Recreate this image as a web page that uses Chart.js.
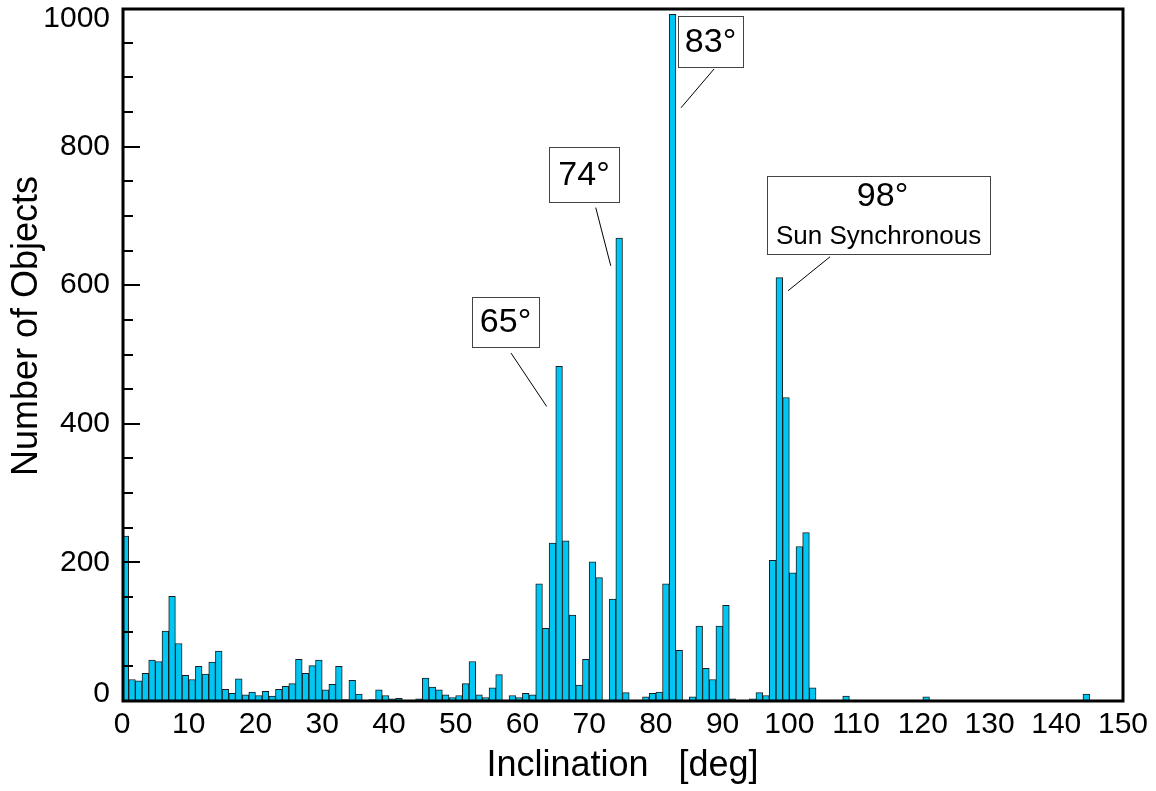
<!DOCTYPE html>
<html>
<head>
<meta charset="utf-8">
<script src="https://cdn.jsdelivr.net/npm/chart.js@4.4.1/dist/chart.umd.min.js"></script>
<style>
  html, body { margin: 0; padding: 0; background: #fff; }
  #chart { display: block; }
</style>
</head>
<body>
<canvas id="chart" width="1156" height="791"></canvas>
<script>
// Number of catalogued objects per 1-degree inclination bin (bin i covers i..i+1 deg)
const objectCounts = [
    238, 31, 29, 40, 59, 57, 101, 151, 83, 37,
    31, 50, 39, 56, 72, 17, 11, 32, 9, 13,
    8, 14, 7, 17, 21, 25, 60, 40, 51, 59,
    16, 24, 50, 2, 30, 10, 1, 2, 16, 8,
    3, 4, 1, 0, 3, 33, 20, 16, 9, 5,
    8, 25, 57, 9, 5, 19, 38, 0, 8, 5,
    11, 9, 169, 105, 228, 483, 231, 124, 23, 60,
    201, 178, 0, 147, 668, 12, 0, 0, 6, 11,
    13, 169, 991, 73, 0, 6, 108, 47, 31, 108,
    138, 3, 0, 0, 3, 12, 8, 203, 611, 438,
    185, 223, 243, 19, 0, 1, 0, 0, 7, 0,
    0, 0, 0, 0, 1, 0, 0, 0, 0, 0,
    6, 0, 0, 0, 0, 0, 0, 0, 0, 0,
    0, 0, 0, 0, 0, 0, 0, 0, 0, 0,
    0, 0, 0, 0, 10, 0, 0, 0, 0, 0
];

const xTickValues = [0, 10, 20, 30, 40, 50, 60, 70, 80, 90, 100, 110, 120, 130, 140, 150];
const yTickValues = [0, 200, 400, 600, 800, 1000];

const peakLabels = ['65°', '74°', '83°', '98°'];
const peakNotes = ['', '', '', 'Sun Synchronous'];

const xTitle = 'Inclination   [deg]';
const yTitle = 'Number of Objects';

// Callout boxes and leader lines, in axis units (deg, count)
const calloutLayout = [
    { box: [52.45, 62.49, 583, 511], line: [58.3, 502, 63.64, 425] },
    { box: [63.99, 74.48, 799, 719], line: [70.99, 712, 73.24, 628] },
    { box: [83.32, 93.06, 988, 915], line: [88.72, 912, 83.77, 856] },
    { box: [96.66, 130.07, 758, 646], line: [106.1, 641, 99.81, 592] }
];

const FONT = "'Liberation Sans', Arial, sans-serif";

// Frame, y ticks and labels, callouts and axis titles
const decorations = {
    id: 'decorations',
    afterDatasetsDraw(chart) {
        const { ctx, chartArea: area, scales: { x, y } } = chart;
        ctx.save();

        // minor ticks every 50, longer ones at the labelled values
        ctx.strokeStyle = '#000';
        ctx.lineWidth = 2;
        for (let v = 50; v < 1000; v += 50) {
            const py = Math.round(y.getPixelForValue(v));
            const len = v % 200 === 0 ? 18 : 11;
            ctx.beginPath();
            ctx.moveTo(area.left, py);
            ctx.lineTo(area.left + len, py);
            ctx.stroke();
        }

        ctx.lineWidth = 3;
        ctx.strokeRect(area.left + 1, area.top + 1, area.right - area.left - 1, area.bottom - area.top - 1);

        // y labels, the end ones kept inside the frame
        ctx.fillStyle = '#000';
        ctx.font = `30px ${FONT}`;
        ctx.textAlign = 'right';
        ctx.textBaseline = 'middle';
        yTickValues.forEach(v => {
            const py = y.getPixelForValue(v);
            const cy = Math.min(Math.max(py, area.top + 11), area.bottom - 7);
            ctx.fillText(String(v), area.left - 12, cy);
        });

        // peak callouts
        calloutLayout.forEach((c, i) => {
            const l = x.getPixelForValue(c.box[0]);
            const r = x.getPixelForValue(c.box[1]);
            const t = y.getPixelForValue(c.box[2]);
            const b = y.getPixelForValue(c.box[3]);
            ctx.fillStyle = '#fff';
            ctx.fillRect(l, t, r - l, b - t);
            ctx.strokeStyle = '#444';
            ctx.lineWidth = 1;
            ctx.strokeRect(Math.round(l) + 0.5, Math.round(t) + 0.5, Math.round(r - l), Math.round(b - t));

            ctx.fillStyle = '#000';
            ctx.textAlign = 'center';
            ctx.textBaseline = 'middle';
            const cx = (l + r) / 2;
            if (peakNotes[i]) {
                ctx.font = `34px ${FONT}`;
                ctx.fillText(peakLabels[i], cx + 4, t + 21);
                ctx.font = `26px ${FONT}`;
                ctx.fillText(peakNotes[i], cx, t + 61);
            } else {
                ctx.font = `34px ${FONT}`;
                ctx.fillText(peakLabels[i], cx, (t + b) / 2 + 1);
            }

            ctx.strokeStyle = '#000';
            ctx.lineWidth = 1;
            ctx.beginPath();
            ctx.moveTo(x.getPixelForValue(c.line[0]), y.getPixelForValue(c.line[1]));
            ctx.lineTo(x.getPixelForValue(c.line[2]), y.getPixelForValue(c.line[3]));
            ctx.stroke();
        });

        // axis titles
        ctx.fillStyle = '#000';
        ctx.font = `36px ${FONT}`;
        ctx.textAlign = 'center';
        ctx.textBaseline = 'middle';
        ctx.fillText(xTitle, (area.left + area.right) / 2, 766);

        ctx.translate(27, 326);
        ctx.rotate(-Math.PI / 2);
        ctx.fillText(yTitle, 0, 0);

        ctx.restore();
    }
};

const countsChart = new Chart(document.getElementById('chart'), {
    type: 'bar',
    data: {
        datasets: [{
            data: objectCounts.map((n, i) => ({ x: i + 0.5, y: n })),
            backgroundColor: '#00c6f4',
            borderColor: '#1c1c1c',
            borderWidth: 1,
            borderSkipped: 'start',
            barPercentage: 1,
            categoryPercentage: 1
        }]
    },
    options: {
        responsive: false,
        animation: false,
        events: [],
        layout: { padding: { top: 8, right: 33, left: 0, bottom: 0 } },
        plugins: {
            legend: { display: false },
            tooltip: { enabled: false }
        },
        scales: {
            x: {
                type: 'linear',
                min: 0,
                max: 150,
                offset: false,
                afterBuildTicks: axis => { axis.ticks = xTickValues.map(v => ({ value: v })); },
                afterFit: axis => {
                    axis.height = 90;
                    axis.paddingLeft = 0;
                    axis.paddingRight = 0;
                },
                grid: { display: false, drawTicks: false },
                border: { display: false },
                ticks: {
                    color: '#000',
                    font: { family: FONT, size: 30 },
                    padding: 6,
                    maxRotation: 0,
                    autoSkip: false
                }
            },
            y: {
                min: 0,
                max: 1000,
                afterBuildTicks: axis => { axis.ticks = yTickValues.map(v => ({ value: v })); },
                afterFit: axis => {
                    axis.width = 122;
                    axis.paddingTop = 0;
                    axis.paddingBottom = 0;
                },
                grid: { display: false, drawTicks: false },
                border: { display: false },
                ticks: { display: false }
            }
        }
    },
    plugins: [decorations]
});
</script>
</body>
</html>
